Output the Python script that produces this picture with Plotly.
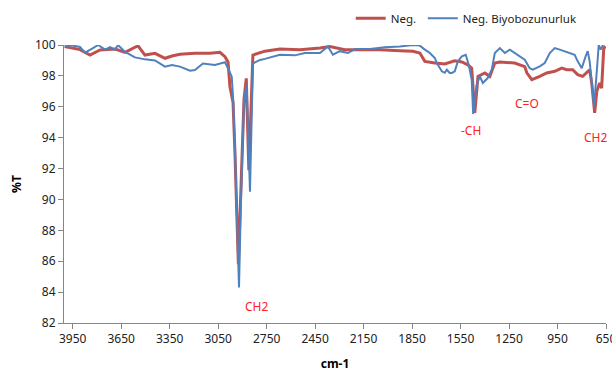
import plotly.graph_objects as go

# --- Data ---
neg_wn = [4000, 3905, 3843, 3781, 3688, 3626, 3546, 3503, 3441, 3379, 3336, 3286, 3194, 3101,
          3039, 3008, 2989, 2977, 2958, 2946, 2925, 2909, 2890, 2876, 2860, 2835, 2761, 2668,
          2544, 2420, 2359, 2266, 2173, 2049, 1926, 1845, 1802, 1771, 1709, 1648, 1586, 1542,
          1505, 1481, 1462, 1442, 1400, 1369, 1338, 1307, 1215, 1184, 1153, 1140, 1109, 1060,
          1017, 967, 924, 893, 856, 825, 794, 751, 738, 720, 707, 689, 677, 664, 652]
neg_t = [99.9, 99.7, 99.35, 99.68, 99.74, 99.53, 99.95, 99.35, 99.46, 99.14, 99.29, 99.4, 99.46, 99.46,
         99.53, 99.24, 98.9, 97.3, 96.3, 93.0, 85.8, 91.0, 96.5, 97.84, 91.9, 99.35, 99.6, 99.74,
         99.7, 99.8, 99.9, 99.7, 99.7, 99.7, 99.63, 99.6, 99.48, 98.94, 98.83, 98.77, 98.98, 98.9,
         98.72, 98.5, 95.6, 97.97, 98.19, 97.97, 98.83, 98.9, 98.83, 98.7, 98.6, 98.2, 97.75, 97.97,
         98.19, 98.3, 98.5, 98.4, 98.4, 98.08, 97.97, 98.4, 97.5, 95.6, 97.0, 97.54, 97.2, 99.8, 99.9]

bio_wn = [4000, 3966, 3905, 3874, 3830, 3793, 3750, 3719, 3688, 3670, 3626, 3565, 3503, 3441,
          3379, 3336, 3286, 3224, 3194, 3144, 3070, 3008, 2989, 2966, 2958, 2946, 2921, 2909,
          2890, 2874, 2853, 2835, 2791, 2761, 2668, 2575, 2513, 2420, 2371, 2340, 2297, 2247,
          2204, 2111, 2019, 1926, 1845, 1802, 1771, 1740, 1709, 1697, 1666, 1648, 1635, 1617,
          1604, 1586, 1567, 1555, 1542, 1518, 1499, 1481, 1472, 1450, 1431, 1412, 1382, 1357,
          1338, 1307, 1276, 1245, 1215, 1184, 1153, 1122, 1103, 1060, 1029, 998, 967, 936,
          905, 874, 844, 825, 800, 776, 763, 751, 732, 724, 707, 695, 683, 670, 652]
bio_t = [99.9, 100.0, 99.87, 99.5, 99.76, 100.0, 99.7, 99.87, 99.7, 100.0, 99.55, 99.2, 99.07, 99.0,
         98.6, 98.7, 98.6, 98.33, 98.38, 98.8, 98.7, 98.88, 98.5, 97.95, 96.65, 93.2, 84.3, 90.0,
         96.5, 97.4, 90.5, 98.8, 99.03, 99.1, 99.37, 99.33, 99.48, 99.48, 99.9, 99.37, 99.6, 99.48,
         99.74, 99.74, 99.85, 99.9, 100.0, 99.96, 99.7, 99.48, 99.16, 98.83, 98.3, 98.2, 98.4, 98.19,
         98.19, 98.3, 98.94, 99.1, 99.27, 99.37, 98.7, 97.75, 95.53, 97.43, 97.97, 97.54, 97.86, 98.4,
         99.48, 99.8, 99.48, 99.7, 99.48, 99.27, 99.05, 98.5, 98.4, 98.62, 98.83, 99.48, 99.8, 99.7,
         99.6, 99.48, 99.37, 98.94, 98.5, 99.27, 99.6, 98.94, 97.0, 96.03, 98.3, 100.0, 99.7, 100.0, 100.1]

label_text = ["CH2", "-CH", "C=O", "CH2"]
label_wn = [2810, 1487, 1140, 714]
label_t = [83.04, 94.49, 96.24, 94.04]

series_names = ["Neg.", "Neg. Biyobozunurluk"]
x_title = "cm-1"
y_title = "%T"

FONT = "Noto Sans"

fig = go.Figure()
fig.add_trace(go.Scatter(x=neg_wn, y=neg_t, mode="lines", name=series_names[0],
                         line=dict(color="#C0504D", width=3), legend="legend"))
fig.add_trace(go.Scatter(x=bio_wn, y=bio_t, mode="lines", name=series_names[1],
                         line=dict(color="#4F81BD", width=2), legend="legend2"))

for t, xv, yv in zip(label_text, label_wn, label_t):
    fig.add_annotation(x=xv, y=yv, xref="x", yref="y", text=t, showarrow=False,
                       font=dict(family=FONT, size=12, color="#FF2020"))

axis_common = dict(showgrid=False, zeroline=False, showline=True, linecolor="#868686",
                   linewidth=1, ticks="outside", ticklen=5, tickcolor="#868686",
                   automargin=False,
                   tickfont=dict(family=FONT, size=12, color="#222222"))

fig.update_xaxes(range=[4004, 650], tickmode="linear", tick0=650, dtick=300,
                 ticklabeloverflow="allow",
                 title=dict(text="<b>" + x_title + "</b>", standoff=13,
                            font=dict(family=FONT, size=12, color="#000000")),
                 **axis_common)
fig.update_yaxes(range=[82, 100], tickmode="linear", tick0=82, dtick=2,
                 title=dict(text="<b>" + y_title + "</b>", standoff=10,
                            font=dict(family=FONT, size=12, color="#000000")),
                 **axis_common)

legend_common = dict(orientation="h", y=0.99, xref="paper", yref="container",
                     xanchor="left", yanchor="top",
                     font=dict(family=FONT, size=11.5, color="#222222"),
                     bgcolor="rgba(0,0,0,0)", itemwidth=30)

fig.update_layout(
    width=612, height=374,
    margin=dict(l=64, r=6, t=45, b=51, autoexpand=False),
    paper_bgcolor="white", plot_bgcolor="white",
    font=dict(family=FONT, size=12, color="#222222"),
    legend=dict(x=0.529, **legend_common),
    legend2=dict(x=0.662, **legend_common),
    showlegend=True,
)

fig.write_html("out.html")
